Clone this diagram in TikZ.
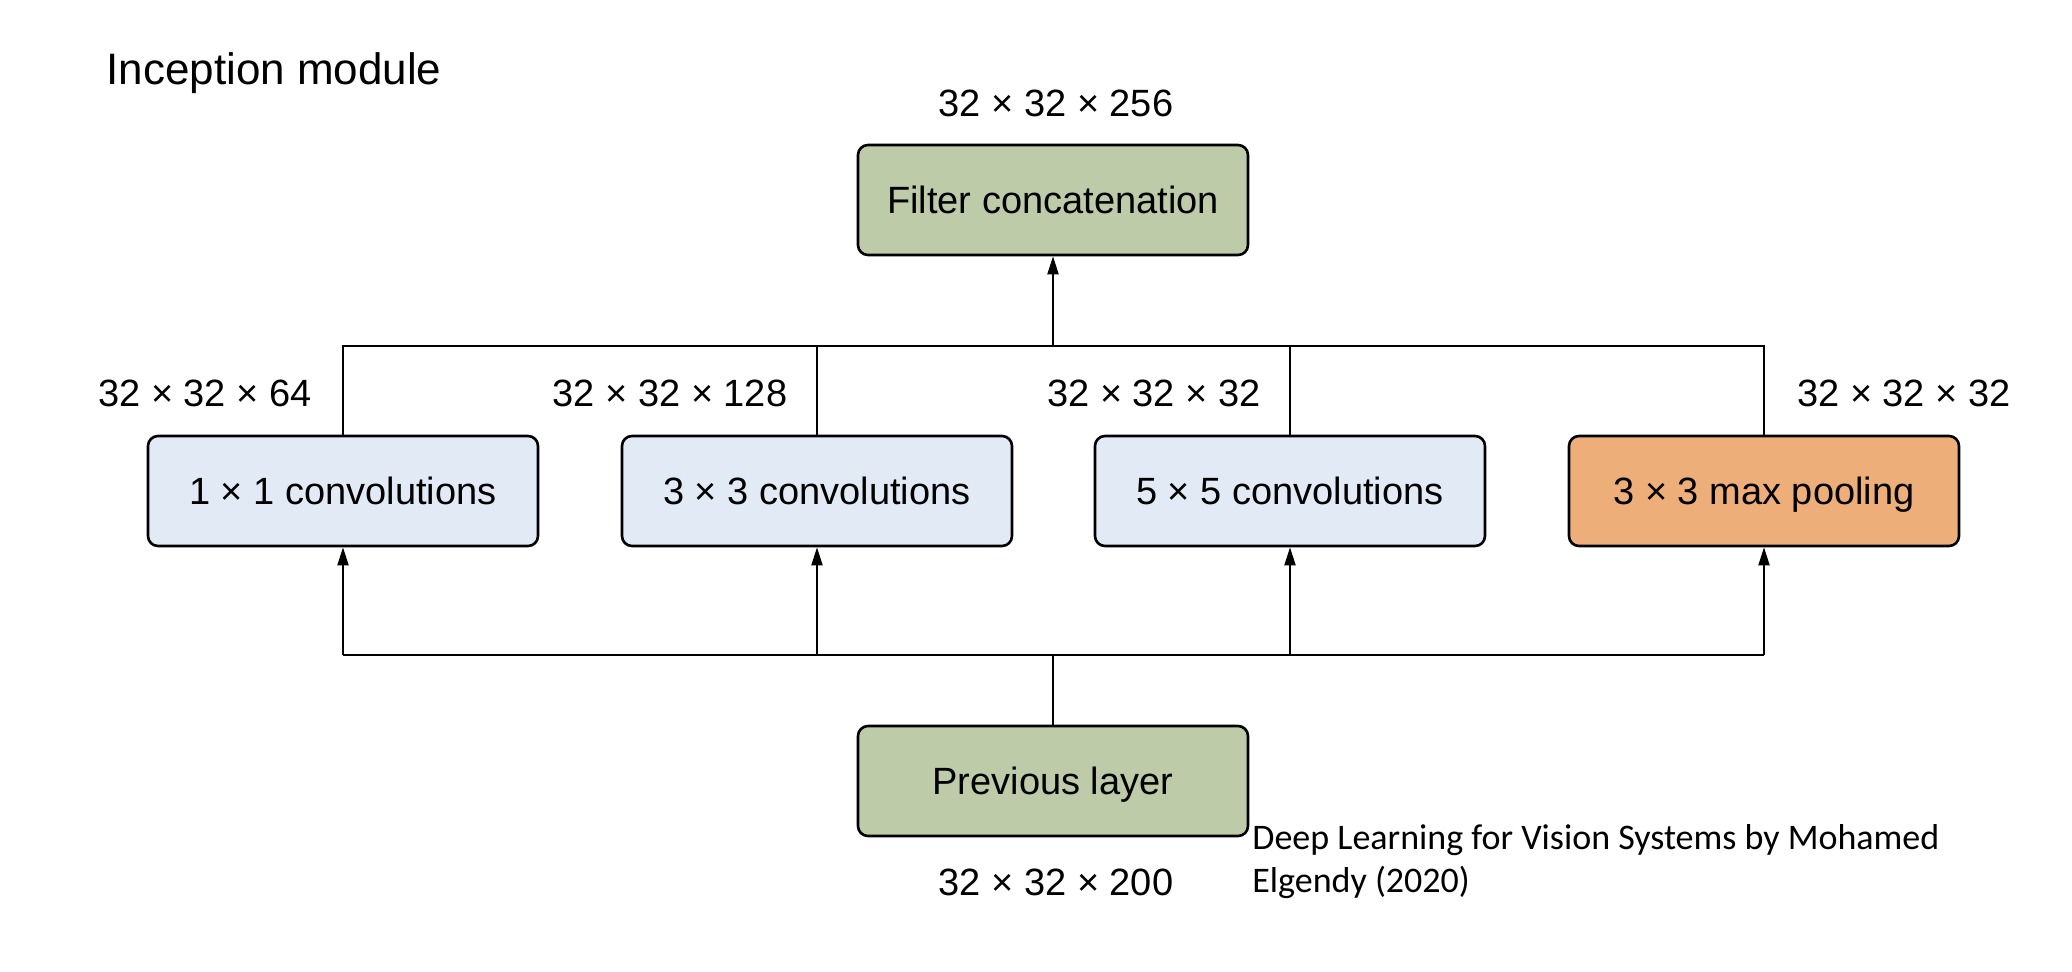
\documentclass[tikz,border=0pt]{standalone}
\usepackage{fontspec}
\setmainfont{Liberation Sans}
\newfontfamily\citefont{Carlito}
\usetikzlibrary{arrows.meta}
\definecolor{boxgreen}{HTML}{BDCBA8}
\definecolor{boxblue}{HTML}{E2EBF5}
\definecolor{boxorange}{HTML}{EEAE7A}
\tikzset{
  blk/.style={draw=black, line width=1.3pt, rounded corners=5pt, minimum width=195pt, minimum height=55pt, inner sep=0pt, text height=18.35pt, text depth=4.75pt, font=\fontsize{19}{23}\selectfont},
  greenblk/.style={blk, fill=boxgreen},
  blueblk/.style={blk, fill=boxblue},
  orangeblk/.style={blk, fill=boxorange},
  dimlbl/.style={inner sep=0pt, font=\fontsize{19}{23}\selectfont},
  conn/.style={line width=1pt},
  arr/.style={conn, -{Triangle[length=9pt, width=5.5pt]}}
}
\begin{document}
\begin{tikzpicture}[x=0.5pt, y=-0.5pt]
\useasboundingbox (0,0) rectangle (2072,971);
% title
\node[inner sep=0pt, anchor=west, font=\fontsize{22}{26}\selectfont] (title) at (106,73) {Inception module};
% boxes
\node[greenblk] (concat) at (1053,200) {Filter concatenation};
\node[blueblk] (c1) at (343,491) {1 × 1 convolutions};
\node[blueblk] (c3) at (817,491) {3 × 3 convolutions};
\node[blueblk] (c5) at (1290,491) {5 × 5 convolutions};
\node[orangeblk] (mp) at (1764,491) {3 × 3 max pooling};
\node[greenblk] (prev) at (1053,781) {Previous layer};
% dimension labels
\node[dimlbl] (l256) at (1056,103) {32 × 32 × 256};
\node[dimlbl] (l64) at (205,393) {32 × 32 × 64};
\node[dimlbl] (l128) at (670,393) {32 × 32 × 128};
\node[dimlbl] (l32a) at (1154,393) {32 × 32 × 32};
\node[dimlbl] (l32b) at (1904,393) {32 × 32 × 32};
\node[dimlbl] (l200) at (1056,882) {32 × 32 × 200};
% citation
\node[inner sep=0pt, anchor=west, align=left, font=\citefont\fontsize{18}{21.5}\selectfont] (cite) at (1252,862) {Deep Learning for Vision Systems by Mohamed\\Elgendy (2020)};
% bus coordinates
\coordinate (topbus) at (1053,346);
\coordinate (botbus) at (1053,655);
% top bus
\draw[conn] (c1.north) |- (topbus) -| (mp.north);
\draw[conn] (c3.north) -- (c3.north |- topbus);
\draw[conn] (c5.north) -- (c5.north |- topbus);
\draw[arr] (topbus) -- (concat.south);
% bottom bus
\draw[conn] (prev.north) -- (botbus);
\draw[conn] (c1.south |- botbus) -- (mp.south |- botbus);
\draw[arr] (c1.south |- botbus) -- (c1.south);
\draw[arr] (c3.south |- botbus) -- (c3.south);
\draw[arr] (c5.south |- botbus) -- (c5.south);
\draw[arr] (mp.south |- botbus) -- (mp.south);
\end{tikzpicture}
\end{document}
